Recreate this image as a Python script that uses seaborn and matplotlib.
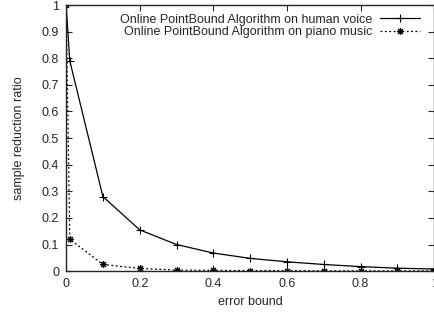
import numpy as np
import pandas as pd
import matplotlib
matplotlib.use("Agg")
import matplotlib.pyplot as plt
import seaborn as sns

error_bound = [0.0, 0.01, 0.1, 0.2, 0.3, 0.4, 0.5, 0.6, 0.7, 0.8, 0.9, 1.0]
human_voice = [1.0, 0.79, 0.28, 0.155, 0.10, 0.068, 0.048, 0.035, 0.025, 0.017, 0.011, 0.008]
piano_music = [1.0, 0.12, 0.025, 0.010, 0.004, 0.003, 0.002, 0.002, 0.001, 0.001, 0.001, 0.001]

label_voice = "Online PointBound Algorithm on human voice"
label_piano = "Online PointBound Algorithm on piano music"

sns.set_style("ticks")
plt.rcParams['font.family'] = ['Liberation Sans', 'DejaVu Sans']
plt.rcParams['font.size'] = 9

fig = plt.figure(figsize=(4.35, 3.16), dpi=100)
ax = fig.add_axes([0.152, 0.142, 0.846, 0.842])

df_v = pd.DataFrame({"x": error_bound, "y": human_voice})
df_p = pd.DataFrame({"x": error_bound, "y": piano_music})

sns.lineplot(data=df_v, x="x", y="y", ax=ax, color="black", lw=0.9,
             marker="+", markersize=6, markeredgewidth=0.8,
             markeredgecolor="black", label=label_voice)
sns.lineplot(data=df_p, x="x", y="y", ax=ax, color="black", lw=0.9,
             linestyle=(0, (1.5, 2)), marker=(8, 2, 0), markersize=5,
             markeredgewidth=0.8, markeredgecolor="black",
             label=label_piano)

ax.set_xlim(0, 1)
ax.set_ylim(0, 1)
ax.set_xticks([0, 0.2, 0.4, 0.6, 0.8, 1.0])
ax.set_xticklabels(["0", "0.2", "0.4", "0.6", "0.8", "1"])
ax.set_yticks(np.arange(0, 1.01, 0.1))
ax.set_yticklabels(["0", "0.1", "0.2", "0.3", "0.4", "0.5", "0.6", "0.7", "0.8", "0.9", "1"])
ax.tick_params(direction="in", top=True, right=True, length=4, width=0.8,
               labelsize=9, pad=5)
for s in ax.spines.values():
    s.set_linewidth(1.0)
    s.set_visible(True)

ax.set_xlabel("error bound", fontsize=9, labelpad=4)
ax.set_ylabel("sample reduction ratio", fontsize=9, labelpad=12)

ax.legend(loc="upper right", frameon=False, markerfirst=False, fontsize=9,
          handlelength=3.2, borderaxespad=0.3, labelspacing=0.05,
          handletextpad=0.6, bbox_to_anchor=(0.985, 1.0))

fig.savefig("out.png", dpi=100)
